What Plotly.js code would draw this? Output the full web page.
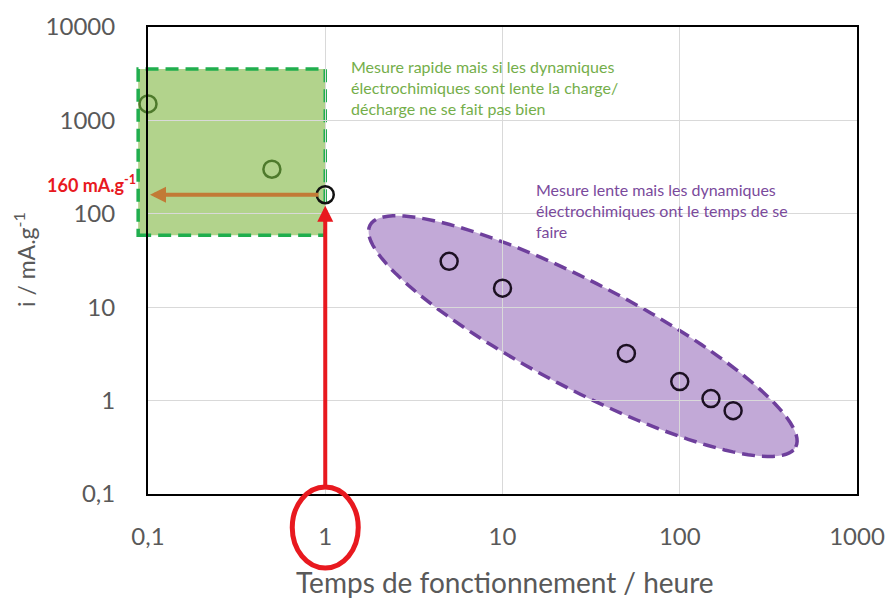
<!DOCTYPE html>
<html>
<head>
<meta charset="utf-8">
<script src="https://cdn.plot.ly/plotly-3.0.1.min.js"></script>
<style>html,body{margin:0;padding:0;background:#fff;}#chart{width:891px;height:598px;}</style>
</head>
<body>
<div id="chart"></div>
<script>
// ---- data ----
const xTickVals = [0.1, 1, 10, 100, 1000];
const xTickText = ['0,1', '1', '10', '100', '1000'];
const yTickVals = [0.1, 1, 10, 100, 1000, 10000];
const yTickText = ['0,1', '1', '10', '100', '1000', '10000'];

const fastTime = [0.1, 0.5];
const fastCurrent = [1500, 300];
const refTime = [1];
const refCurrent = [160];
const slowTime = [5, 10, 50, 100, 150, 200];
const slowCurrent = [31, 16, 3.2, 1.6, 1.05, 0.78];

const xTitle = 'Temps de fonctionnement / heure';
const yTitle = 'i / mA.g<sup>-1</sup>';
const refLabel = '<b>160 mA.g<sup>-1</sup></b>';
const fastNote = 'Mesure rapide mais si les dynamiques<br>électrochimiques sont lente la charge/<br>décharge ne se fait pas bien';
const slowNote = 'Mesure lente mais les dynamiques<br>électrochimiques ont le temps de se<br>faire';

// zones (data units)
const fastZone = {x0: 0.088, x1: 1, y0: 59, y1: 3550};
const slowZone = {cx: 28.4, cy: 4.9, a: 240, b: 53, angle: 27.5}; // a,b in px

// ---- layout geometry ----
const M = {l: 148, r: 34, t: 27, b: 104};
const W = 891 - M.l - M.r, H = 598 - M.t - M.b;
const xr = [-1, 3], yr = [-1, 4];
const px = v => (Math.log10(v) - xr[0]) / (xr[1] - xr[0]);
const py = v => (Math.log10(v) - yr[0]) / (yr[1] - yr[0]);

function ellipsePath(e) {
  const cx = px(e.cx) * W, cy = py(e.cy) * H; // pixel, y up
  const th = -e.angle * Math.PI / 180;
  let d = '';
  for (let i = 0; i <= 120; i++) {
    const t = i / 120 * 2 * Math.PI;
    const dx = e.a * Math.cos(t), dy = e.b * Math.sin(t);
    const X = cx + dx * Math.cos(th) - dy * Math.sin(th);
    const Y = cy + dx * Math.sin(th) + dy * Math.cos(th);
    d += (i === 0 ? 'M' : 'L') + (X / W).toFixed(5) + ',' + (Y / H).toFixed(5);
  }
  return d + 'Z';
}

const font = 'Lato, "Open Sans", sans-serif';

const traces = [
  {x: fastTime, y: fastCurrent, mode: 'markers', type: 'scatter', cliponaxis: false,
   marker: {symbol: 'circle-open', size: 17, line: {width: 2.5, color: '#4e7a2c'}, color: '#4e7a2c'}},
  {x: refTime, y: refCurrent, mode: 'markers', type: 'scatter', cliponaxis: false,
   marker: {symbol: 'circle-open', size: 17, line: {width: 2.5, color: '#111'}, color: '#111'}},
  {x: slowTime, y: slowCurrent, mode: 'markers', type: 'scatter', cliponaxis: false,
   marker: {symbol: 'circle-open', size: 17, line: {width: 2.5, color: '#1c1022'}, color: '#1c1022'}}
];

const layout = {
  width: 891, height: 598,
  margin: M,
  paper_bgcolor: '#fff', plot_bgcolor: 'rgba(0,0,0,0)',
  showlegend: false,
  font: {family: font, color: '#595959'},
  xaxis: {
    type: 'log', range: xr, tickvals: xTickVals, ticktext: xTickText,
    showgrid: true, gridcolor: '#d9d9d9', gridwidth: 1,
    showline: true, linecolor: '#000', linewidth: 2, mirror: true,
    ticks: '', ticklabelstandoff: 20, zeroline: false,
    tickfont: {size: 24, color: '#595959', family: font}
  },
  yaxis: {
    type: 'log', range: yr, tickvals: yTickVals, ticktext: yTickText,
    showgrid: true, gridcolor: '#d9d9d9', gridwidth: 1,
    showline: true, linecolor: '#000', linewidth: 2, mirror: true,
    ticks: '', ticklabelstandoff: 26, zeroline: false,
    tickfont: {size: 24, color: '#595959', family: font}
  },
  shapes: [
    {type: 'rect', xref: 'paper', yref: 'paper', layer: 'below',
     x0: px(fastZone.x0), x1: px(fastZone.x1), y0: py(fastZone.y0), y1: py(fastZone.y1),
     fillcolor: '#b2d38c', line: {color: '#20ae4e', width: 3.5, dash: '13px,7px'}},
    {type: 'path', xref: 'paper', yref: 'paper', layer: 'below',
     path: ellipsePath(slowZone),
     fillcolor: '#c2a9d7', line: {color: '#6e3f9c', width: 3.5, dash: '13px,7px'}},
    {type: 'circle', xref: 'paper', yref: 'paper', layer: 'above',
     x0: px(1) - 33 / W, x1: px(1) + 33 / W, y0: -(568 - 27 - H) / H, y1: -(487 - 27 - H) / H,
     line: {color: '#e8191f', width: 5}}
  ],
  annotations: [
    {x: (505 - M.l) / W, y: -(582 - M.t - H) / H, xref: 'paper', yref: 'paper', text: xTitle,
     showarrow: false, xanchor: 'center', yanchor: 'middle',
     font: {size: 28, color: '#595959', family: font}},
    {x: (24 - M.l) / W, y: 1 - (260 - M.t) / H, xref: 'paper', yref: 'paper', text: yTitle,
     textangle: -90, showarrow: false, xanchor: 'center', yanchor: 'middle',
     font: {size: 23, color: '#595959', family: font}},
    {x: Math.log10(1), y: Math.log10(refCurrent[0]), xref: 'x', yref: 'y', text: '',
     showarrow: true, ax: 0, ay: 292, arrowhead: 2, arrowsize: 0.8, arrowwidth: 4,
     arrowcolor: '#e8191f', standoff: 11},
    {x: Math.log10(0.1), y: Math.log10(refCurrent[0]), xref: 'x', yref: 'y', text: '',
     showarrow: true, ax: 172, ay: 0, arrowhead: 2, arrowsize: 0.8, arrowwidth: 4,
     arrowcolor: '#c27a36', standoff: 2},
    {x: (91 - M.l) / W, y: py(refCurrent[0]) + 0.022, xref: 'paper', yref: 'paper', text: refLabel,
     showarrow: false, xanchor: 'center', yanchor: 'middle',
     font: {size: 18, color: '#e8191f', family: font}},
    {x: (349 - M.l) / W, y: 1 - (55 - M.t) / H, xref: 'paper', yref: 'paper', text: fastNote,
     showarrow: false, xanchor: 'left', yanchor: 'top', align: 'left',
     font: {size: 16, color: '#74ae4a', family: font}},
    {x: (534 - M.l) / W, y: 1 - (178 - M.t) / H, xref: 'paper', yref: 'paper', text: slowNote,
     showarrow: false, xanchor: 'left', yanchor: 'top', align: 'left',
     font: {size: 16, color: '#7a4a9c', family: font}}
  ]
};

Plotly.newPlot('chart', traces, layout, {displayModeBar: false, staticPlot: true});
</script>
</body>
</html>
